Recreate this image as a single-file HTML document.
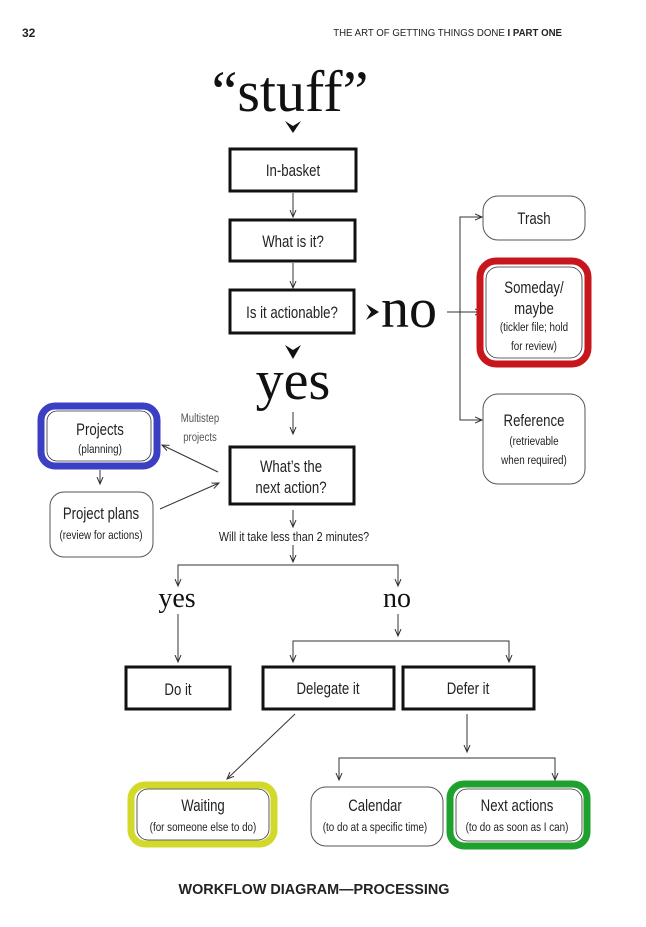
<!DOCTYPE html>
<html><head><meta charset="utf-8"><style>
html,body{margin:0;padding:0;background:#fff;width:646px;height:927px;overflow:hidden}
svg{display:block}
.s{font-family:"Liberation Sans",sans-serif;fill:#222}
.serif{font-family:"Liberation Serif",serif;fill:#111}
.ln{stroke:#333;stroke-width:1;fill:none}
.bx{fill:#fff;stroke:#111;stroke-width:3}
.rb{fill:#fff;stroke:#555;stroke-width:1}
</style></head><body>
<svg width="646" height="927" viewBox="0 0 646 927" xmlns="http://www.w3.org/2000/svg">
<defs><marker id="a" markerWidth="8" markerHeight="8" refX="7" refY="4" orient="auto" markerUnits="userSpaceOnUse"><path d="M0,1 L7,4 L0,7" fill="none" stroke="#333" stroke-width="1"/></marker></defs>

<text x="22" y="37" class="s" font-size="12" font-weight="bold" fill="#111">32</text>
<text x="562" y="36" class="s" font-size="10.5" text-anchor="end" transform="translate(562 0) scale(0.92 1) translate(-562 0)">THE ART OF GETTING THINGS DONE <tspan font-weight="bold">I</tspan> <tspan font-weight="bold">PART ONE</tspan></text>

<text x="290" y="111" class="serif" font-size="58" text-anchor="middle">“stuff”</text>
<path d="M285,121 L293,133 L301,121 L293,126 Z" fill="#111"/>

<g class="s" font-size="16.5" text-anchor="middle">
<rect x="230" y="149" width="126" height="42" class="bx"/>
<text x="293" y="176" transform="translate(293 0) scale(0.8 1) translate(-293 0)">In-basket</text>
<rect x="230" y="220" width="125" height="41" class="bx"/>
<text x="293" y="247" transform="translate(293 0) scale(0.8 1) translate(-293 0)">What is it?</text>
<rect x="230" y="290" width="124" height="43" class="bx"/>
<text x="292" y="318" transform="translate(292 0) scale(0.8 1) translate(-292 0)">Is it actionable?</text>
</g>
<line x1="293" y1="193" x2="293" y2="217" class="ln" marker-end="url(#a)"/>
<line x1="293" y1="263" x2="293" y2="288" class="ln" marker-end="url(#a)"/>

<path d="M366,304 L379,312 L366,320 L371,312 Z" fill="#111"/>
<text x="381" y="327" class="serif" font-size="56">no</text>
<line x1="447" y1="312" x2="482" y2="312" class="ln" marker-end="url(#a)"/>
<path d="M480,217 L460,217 L460,420 L482,420" class="ln"/>
<line x1="460" y1="217" x2="482" y2="217" class="ln" marker-end="url(#a)"/>
<line x1="460" y1="420" x2="482" y2="420" class="ln" marker-end="url(#a)"/>

<rect x="483" y="196" width="102" height="44" rx="15" class="rb"/>
<text x="534" y="224" class="s" font-size="16.5" text-anchor="middle" transform="translate(534 0) scale(0.8 1) translate(-534 0)">Trash</text>

<rect x="480" y="261" width="108" height="103" rx="16" fill="#fff" stroke="#c8161d" stroke-width="7"/>
<rect x="486" y="267" width="96" height="91" rx="12" fill="none" stroke="#333" stroke-width="0.8"/>
<g class="s" text-anchor="middle">
<text x="534" y="293" font-size="16.5" transform="translate(534 0) scale(0.8 1) translate(-534 0)">Someday/</text>
<text x="534" y="314" font-size="16.5" transform="translate(534 0) scale(0.8 1) translate(-534 0)">maybe</text>
<text x="534" y="331" font-size="12" transform="translate(534 0) scale(0.82 1) translate(-534 0)">(tickler file; hold</text>
<text x="534" y="350" font-size="12" transform="translate(534 0) scale(0.82 1) translate(-534 0)">for review)</text>
</g>

<rect x="483" y="394" width="102" height="90" rx="15" class="rb"/>
<g class="s" text-anchor="middle">
<text x="534" y="426" font-size="16.5" transform="translate(534 0) scale(0.8 1) translate(-534 0)">Reference</text>
<text x="534" y="445" font-size="12" transform="translate(534 0) scale(0.82 1) translate(-534 0)">(retrievable</text>
<text x="534" y="464" font-size="12" transform="translate(534 0) scale(0.82 1) translate(-534 0)">when required)</text>
</g>

<path d="M285,345 L293,359 L301,345 L293,350 Z" fill="#111"/>
<text x="293" y="399" class="serif" font-size="56" text-anchor="middle">yes</text>
<line x1="293" y1="412" x2="293" y2="434" class="ln" marker-end="url(#a)"/>
<rect x="230" y="447" width="124" height="57" class="bx"/>
<g class="s" font-size="16.5" text-anchor="middle">
<text x="291" y="472" transform="translate(291 0) scale(0.8 1) translate(-291 0)">What’s the</text>
<text x="291" y="493" transform="translate(291 0) scale(0.8 1) translate(-291 0)">next action?</text>
</g>

<rect x="41" y="406" width="116" height="60" rx="14" fill="#fff" stroke="#3b3fc4" stroke-width="7"/>
<rect x="47" y="411" width="104" height="50" rx="10" fill="none" stroke="#333" stroke-width="0.8"/>
<g class="s" text-anchor="middle">
<text x="100" y="435" font-size="16.5" transform="translate(100 0) scale(0.8 1) translate(-100 0)">Projects</text>
<text x="100" y="453" font-size="12" transform="translate(100 0) scale(0.82 1) translate(-100 0)">(planning)</text>
<text x="200" y="422" font-size="12" fill="#555" transform="translate(200 0) scale(0.8 1) translate(-200 0)">Multistep</text>
<text x="200" y="441" font-size="12" fill="#555" transform="translate(200 0) scale(0.8 1) translate(-200 0)">projects</text>
</g>
<line x1="218" y1="472" x2="162" y2="445" class="ln" marker-end="url(#a)"/>
<line x1="100" y1="470" x2="100" y2="484" class="ln" marker-end="url(#a)"/>
<rect x="50" y="492" width="103" height="65" rx="14" class="rb"/>
<g class="s" text-anchor="middle">
<text x="101" y="519" font-size="16.5" transform="translate(101 0) scale(0.8 1) translate(-101 0)">Project plans</text>
<text x="101" y="539" font-size="12" transform="translate(101 0) scale(0.82 1) translate(-101 0)">(review for actions)</text>
</g>
<line x1="160" y1="509" x2="219" y2="483" class="ln" marker-end="url(#a)"/>

<line x1="293" y1="510" x2="293" y2="527" class="ln" marker-end="url(#a)"/>
<text x="294" y="541" class="s" font-size="12.5" text-anchor="middle" fill="#111" transform="translate(294 0) scale(0.86 1) translate(-294 0)">Will it take less than 2 minutes?</text>
<line x1="293" y1="545" x2="293" y2="562" class="ln" marker-end="url(#a)"/>
<path d="M178,585 L178,565 L398,565 L398,585" class="ln"/>
<line x1="178" y1="575" x2="178" y2="586" class="ln" marker-end="url(#a)"/>
<line x1="398" y1="575" x2="398" y2="586" class="ln" marker-end="url(#a)"/>
<text x="177" y="607" class="serif" font-size="28" text-anchor="middle">yes</text>
<text x="397" y="607" class="serif" font-size="28" text-anchor="middle">no</text>
<line x1="178" y1="614" x2="178" y2="662" class="ln" marker-end="url(#a)"/>
<line x1="398" y1="614" x2="398" y2="636" class="ln" marker-end="url(#a)"/>
<path d="M293,662 L293,641 L509,641 L509,662" class="ln"/>
<line x1="293" y1="650" x2="293" y2="662" class="ln" marker-end="url(#a)"/>
<line x1="509" y1="650" x2="509" y2="662" class="ln" marker-end="url(#a)"/>

<g class="s" font-size="16.5" text-anchor="middle">
<rect x="126" y="667" width="104" height="42" class="bx"/>
<text x="178" y="695" transform="translate(178 0) scale(0.8 1) translate(-178 0)">Do it</text>
<rect x="263" y="667" width="131" height="42" class="bx"/>
<text x="328" y="694" transform="translate(328 0) scale(0.8 1) translate(-328 0)">Delegate it</text>
<rect x="403" y="667" width="131" height="42" class="bx"/>
<text x="468" y="694" transform="translate(468 0) scale(0.8 1) translate(-468 0)">Defer it</text>
</g>

<line x1="295" y1="714" x2="227" y2="779" class="ln" marker-end="url(#a)"/>
<line x1="467" y1="714" x2="467" y2="752" class="ln" marker-end="url(#a)"/>
<path d="M339,780 L339,758 L555,758 L555,780" class="ln"/>
<line x1="339" y1="768" x2="339" y2="780" class="ln" marker-end="url(#a)"/>
<line x1="555" y1="768" x2="555" y2="780" class="ln" marker-end="url(#a)"/>

<rect x="131" y="785" width="143" height="59" rx="14" fill="#fff" stroke="#d2d92a" stroke-width="7"/>
<rect x="137" y="789" width="132" height="51" rx="11" fill="none" stroke="#333" stroke-width="0.8"/>
<rect x="311" y="787" width="132" height="59" rx="15" class="rb"/>
<rect x="450" y="784" width="137" height="62" rx="14" fill="#fff" stroke="#1fa12e" stroke-width="7"/>
<rect x="456" y="789" width="126" height="52" rx="11" fill="none" stroke="#333" stroke-width="0.8"/>
<g class="s" text-anchor="middle">
<text x="203" y="811" font-size="16.5" transform="translate(203 0) scale(0.8 1) translate(-203 0)">Waiting</text>
<text x="203" y="831" font-size="12" transform="translate(203 0) scale(0.82 1) translate(-203 0)">(for someone else to do)</text>
<text x="375" y="811" font-size="16.5" transform="translate(375 0) scale(0.8 1) translate(-375 0)">Calendar</text>
<text x="375" y="831" font-size="12" transform="translate(375 0) scale(0.82 1) translate(-375 0)">(to do at a specific time)</text>
<text x="517" y="811" font-size="16.5" transform="translate(517 0) scale(0.8 1) translate(-517 0)">Next actions</text>
<text x="517" y="831" font-size="12" transform="translate(517 0) scale(0.82 1) translate(-517 0)">(to do as soon as I can)</text>
</g>

<text x="314" y="894" class="s" font-size="15" font-weight="bold" text-anchor="middle" fill="#111" transform="translate(314 0) scale(0.96 1) translate(-314 0)">WORKFLOW DIAGRAM—PROCESSING</text>
</svg>
</body></html>
